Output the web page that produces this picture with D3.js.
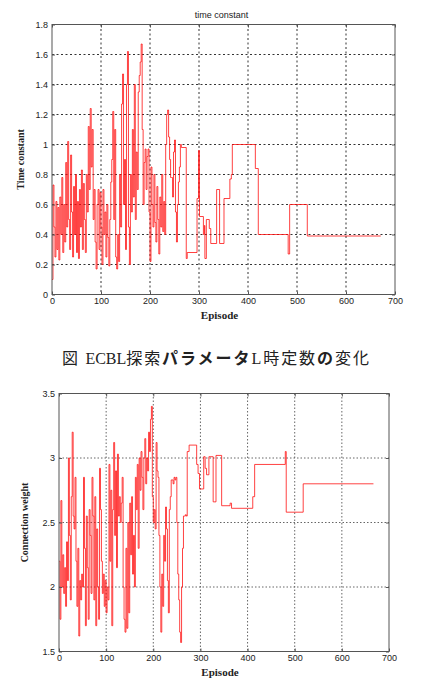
<!DOCTYPE html>
<html>
<head>
<meta charset="utf-8">
<script src="https://cdn.jsdelivr.net/npm/d3@7"></script>
<style>
  body { margin: 0; background: #fff; }
  text { fill: #222; }
</style>
</head>
<body>
<svg id="chart" width="434" height="680"></svg>
<script>
// x axis ticks (shared)
const episodeTicks = [0, 100, 200, 300, 400, 500, 600, 700];

// time constant
const tcTicks = [0, 0.2, 0.4, 0.6, 0.8, 1, 1.2, 1.4, 1.6, 1.8];
const tcEpisode = [
  0,2,4,6,8,10,12,14,16,18,20,22,24,26,28,30,32,34,36,38,
  40,42,44,46,48,50,52,54,56,58,60,62,64,66,68,70,72,74,76,78,
  80,82,84,86,88,90,92,94,96,98,100,102,104,106,108,110,112,114,116,118,
  120,122,124,126,128,130,132,134,136,138,140,142,144,146,148,150,152,154,156,158,
  160,162,164,166,168,170,172,174,176,178,180,182,184,186,188,190,192,194,196,198,
  200,202,204,206,208,210,212,214,216,218,220,222,224,226,228,230,232,234,236,238,
  240,242,244,246,248,250,252,254,256,258,260,262,264,
  274,276,296,299,301,309,311,312,315,321,324,336,342,351,363,366,368,415,421,482,485,521,671
];
const tcValue = [
  0.10,0.73,0.45,0.25,0.62,0.30,0.58,0.23,0.65,0.40,
  0.78,0.28,0.60,0.35,0.88,0.45,1.02,0.50,0.30,0.93,
  0.55,0.25,0.72,0.40,0.80,0.28,0.62,0.24,0.70,0.45,
  0.83,0.30,0.74,0.50,0.28,0.80,0.55,1.12,0.70,1.24,
  0.85,1.10,0.50,0.70,0.35,0.17,0.60,0.70,0.30,0.68,
  0.45,0.20,0.70,0.40,0.55,0.25,0.60,0.38,0.19,0.50,
  0.75,0.90,1.22,0.50,1.10,0.25,0.17,0.40,0.22,0.80,
  0.45,1.27,1.47,0.60,0.90,0.30,1.40,1.62,0.45,0.20,
  0.80,0.55,1.10,0.65,1.40,0.50,0.95,0.70,1.35,1.46,
  1.55,1.67,1.10,0.60,0.88,0.97,0.70,0.92,0.97,0.55,
  0.22,0.85,0.60,0.45,0.80,0.48,0.35,0.72,0.50,0.27,
  0.65,0.45,0.80,0.42,0.62,0.40,1.00,1.20,1.23,1.05,
  0.90,0.78,0.78,0.65,0.95,1.03,0.55,0.35,0.60,0.75,
  0.85,1.00,0.98,
  0.24,0.28,0.64,0.96,0.52,0.40,0.46,0.24,0.50,0.44,0.34,0.70,0.34,0.64,0.77,0.80,1.00,0.84,0.40,0.27,0.60,0.39,0.39
];

// connection weight
const cwTicks = [1.5, 2, 2.5, 3, 3.5];
const cwEpisode = [
  0,2,4,6,8,10,12,14,16,18,20,22,24,26,28,30,32,34,36,38,
  40,42,44,46,48,50,52,54,56,58,60,62,64,66,68,70,72,74,76,78,
  80,82,84,86,88,90,92,94,96,98,100,102,104,106,108,110,112,114,116,118,
  120,122,124,126,128,130,132,134,136,138,140,142,144,146,148,150,152,154,156,158,
  160,162,164,166,168,170,172,174,176,178,180,182,184,186,188,190,192,194,196,198,
  200,202,204,206,208,210,212,214,216,218,220,222,224,226,228,230,232,234,236,238,
  240,242,244,246,248,250,252,254,256,258,260,262,264,266,268,270,
  272,276,292,295,298,307,310,313,318,327,333,345,363,366,411,415,480,482,518,667
];
const cwValue = [
  2.20,1.75,2.67,2.00,2.25,1.95,2.15,1.85,2.35,2.05,
  3.00,2.40,1.90,2.70,3.20,2.55,2.45,2.85,2.20,1.85,
  2.30,1.62,2.05,1.90,2.10,2.00,2.85,2.30,1.70,2.55,
  2.15,1.75,2.60,2.40,1.95,2.85,2.55,1.90,2.70,1.70,
  2.45,2.00,1.75,2.92,2.60,2.20,1.95,2.10,1.85,2.05,
  1.80,2.00,1.90,2.95,2.20,2.75,1.70,2.60,3.12,2.40,
  2.90,2.15,3.03,2.55,2.70,2.50,2.65,2.85,2.00,1.75,
  1.65,2.30,1.68,2.50,1.80,2.65,2.25,2.70,2.10,2.40,
  2.00,2.85,2.60,2.95,2.30,3.00,2.75,3.05,2.85,2.60,
  3.00,3.15,2.80,3.00,2.90,3.20,3.05,3.30,3.40,2.70,
  2.50,2.60,2.45,3.12,2.90,2.85,2.40,2.00,1.65,2.10,
  1.85,2.40,2.20,2.62,2.45,2.05,1.80,2.60,2.70,2.83,
  2.83,2.80,2.85,2.83,2.85,2.50,2.10,1.90,1.65,1.57,
  2.00,2.30,2.55,2.55,2.56,2.55,
  3.05,3.10,2.95,2.88,2.76,3.01,2.92,2.87,3.01,2.66,3.02,2.63,2.65,2.61,2.70,2.95,3.05,2.58,2.80,2.80
];

const svg = d3.select("#chart");

function drawPanel(opt) {
  const x = d3.scaleLinear().domain([0, 700]).range([opt.left, opt.right]);
  const y = d3.scaleLinear().domain([opt.yTicks[0], opt.yTicks[opt.yTicks.length - 1]]).range([opt.bottom, opt.top]);
  const g = svg.append("g");

  // grid
  g.append("g").selectAll("line")
    .data(episodeTicks.slice(1, -1)).join("line")
    .attr("x1", d => x(d)).attr("x2", d => x(d))
    .attr("y1", opt.top).attr("y2", opt.bottom)
    .attr("stroke", opt.gridColor).attr("stroke-dasharray", opt.dash);
  g.append("g").selectAll("line")
    .data(opt.yTicks.slice(1, -1)).join("line")
    .attr("y1", d => y(d)).attr("y2", d => y(d))
    .attr("x1", opt.left).attr("x2", opt.right)
    .attr("stroke", opt.gridColor).attr("stroke-dasharray", opt.dash);

  // series
  const line = d3.line()
    .x((d, i) => x(opt.episodes[i]))
    .y(d => y(d))
    .curve(d3.curveStepAfter);
  g.append("path").datum(opt.values)
    .attr("d", line)
    .attr("fill", "none")
    .attr("stroke", "#ff0d0d")
    .attr("stroke-opacity", 0.78)
    .attr("stroke-width", 1);

  // frame
  g.append("rect")
    .attr("x", opt.left).attr("y", opt.top)
    .attr("width", opt.right - opt.left).attr("height", opt.bottom - opt.top)
    .attr("fill", "none").attr("stroke", "#555");

  // axes
  const fmt = d3.format("~g");
  const styleAxis = s => {
    s.select(".domain").remove();
    s.selectAll(".tick line").attr("stroke", "#555");
    s.selectAll("text").style("font-family", "'Liberation Sans', Arial, sans-serif")
      .style("font-size", "9px").attr("fill", "#222");
  };
  g.append("g").attr("transform", `translate(0,${opt.bottom})`)
    .call(d3.axisBottom(x).tickValues(episodeTicks).tickFormat(fmt).tickSize(-3).tickPadding(3))
    .call(styleAxis);
  g.append("g").attr("transform", `translate(0,${opt.top})`)
    .call(d3.axisTop(x).tickValues(episodeTicks).tickFormat("").tickSize(-3))
    .call(styleAxis);
  g.append("g").attr("transform", `translate(${opt.left},0)`)
    .call(d3.axisLeft(y).tickValues(opt.yTicks).tickFormat(fmt).tickSize(-3).tickPadding(4))
    .call(styleAxis);
  g.append("g").attr("transform", `translate(${opt.right},0)`)
    .call(d3.axisRight(y).tickValues(opt.yTicks).tickFormat("").tickSize(-3))
    .call(styleAxis);

  // labels
  g.append("text")
    .attr("x", (opt.left + opt.right) / 2 - 4).attr("y", opt.bottom + 24)
    .attr("text-anchor", "middle")
    .style("font-family", "'Liberation Serif', 'Times New Roman', serif")
    .style("font-weight", "bold").style("font-size", "11px")
    .text("Episode");
  g.append("text")
    .attr("transform", `translate(${opt.yLabelX},${(opt.top + opt.bottom) / 2}) rotate(-90)`)
    .attr("text-anchor", "middle")
    .style("font-family", "'Liberation Serif', 'Times New Roman', serif")
    .style("font-weight", "bold").style("font-size", "10px")
    .text(opt.yLabel);
  if (opt.title) {
    g.append("text")
      .attr("x", (opt.left + opt.right) / 2 - 2).attr("y", opt.top - 7)
      .attr("text-anchor", "middle")
      .style("font-family", "'Liberation Sans', Arial, sans-serif")
      .style("font-size", "9px")
      .text(opt.title);
  }
}

drawPanel({
  left: 52, right: 395, top: 24.5, bottom: 294.5,
  yTicks: tcTicks, episodes: tcEpisode, values: tcValue,
  gridColor: "#333", dash: "2,2.5",
  yLabel: "Time constant", yLabelX: 24, title: "time constant"
});

drawPanel({
  left: 59, right: 389, top: 393.5, bottom: 651.5,
  yTicks: cwTicks, episodes: cwEpisode, values: cwValue,
  gridColor: "#666", dash: "1.5,2",
  yLabel: "Connection weight", yLabelX: 28, title: null
});

// caption between the two panels
const cap = svg.append("text")
  .attr("x", 62).attr("y", 364)
  .attr("textLength", 307).attr("lengthAdjust", "spacing")
  .style("font-family", "'Noto Sans CJK JP', sans-serif")
  .style("font-size", "16px");
cap.append("tspan").text("図 ");
cap.append("tspan").style("font-family", "'Liberation Serif', serif").style("letter-spacing", "-2px").text("ECBL");
cap.append("tspan").text("探索");
cap.append("tspan").style("font-weight", "bold").text("パラメータ");
cap.append("tspan").style("font-family", "'Liberation Serif', serif").text("L");
cap.append("tspan").text("時定数");
cap.append("tspan").style("font-weight", "bold").text("の");
cap.append("tspan").text("変化");
</script>
</body>
</html>
